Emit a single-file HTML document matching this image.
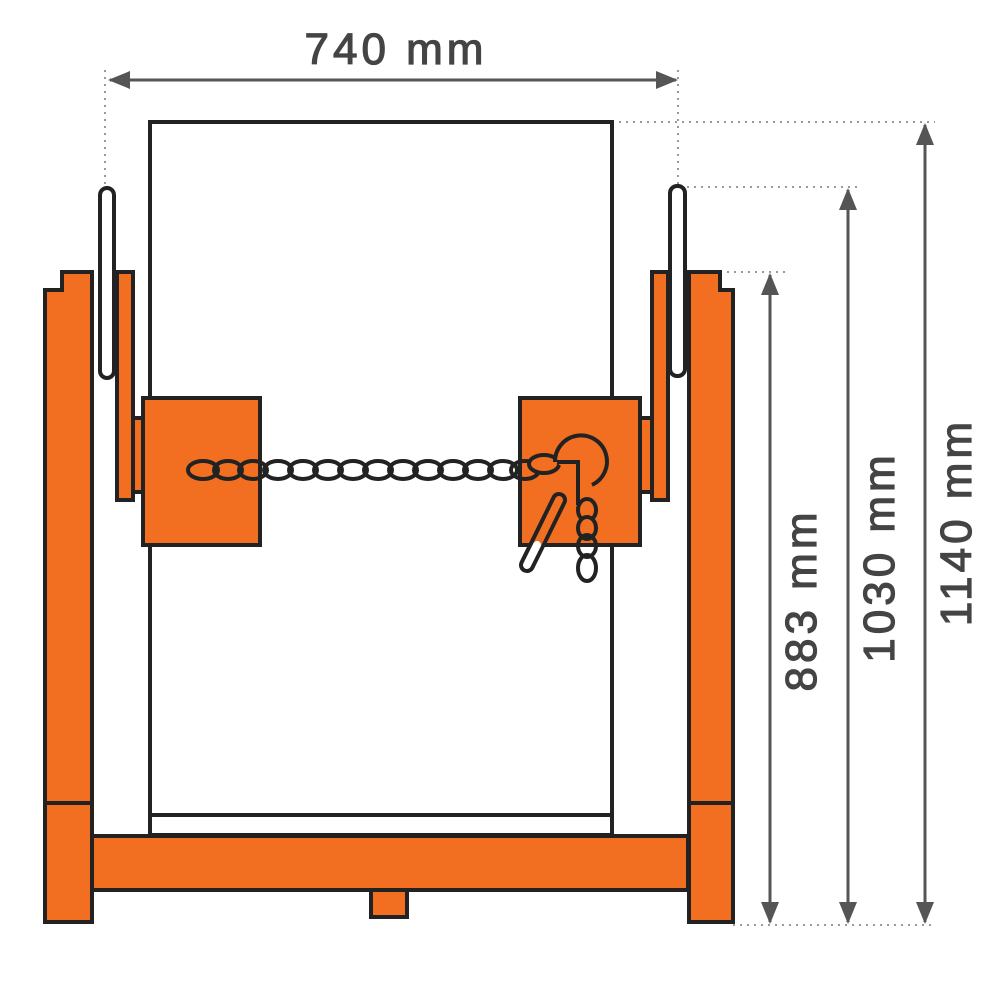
<!DOCTYPE html>
<html><head><meta charset="utf-8"><style>html,body{margin:0;padding:0;background:#fff}svg{display:block}</style></head><body>
<svg width="1000" height="1000" viewBox="0 0 1000 1000" xmlns="http://www.w3.org/2000/svg">
<defs>
<marker id="a2" markerWidth="22" markerHeight="22" refX="20" refY="11" orient="auto-start-reverse" markerUnits="userSpaceOnUse" viewBox="0 0 22 22"><path d="M0,2 L22,11 L0,20 z" fill="#555"/></marker>
</defs>
<g fill="none" stroke="#999" stroke-width="2" stroke-dasharray="2,5">
<line x1="105" y1="70" x2="105" y2="240"/>
<line x1="678" y1="70" x2="678" y2="240"/>
<line x1="612" y1="122" x2="935" y2="122"/>
<line x1="687" y1="187" x2="860" y2="187"/>
<line x1="720" y1="272" x2="785" y2="272"/>
<line x1="733" y1="925" x2="935" y2="925"/>
</g>
<g stroke="#555" stroke-width="3" fill="none">
<line x1="110" y1="80" x2="676" y2="80" marker-start="url(#a2)" marker-end="url(#a2)"/>
<line x1="770" y1="275" x2="770" y2="922" marker-start="url(#a2)" marker-end="url(#a2)"/>
<line x1="848" y1="190" x2="848" y2="922" marker-start="url(#a2)" marker-end="url(#a2)"/>
<line x1="925" y1="125" x2="925" y2="922" marker-start="url(#a2)" marker-end="url(#a2)"/>
</g>
<g font-family="Liberation Sans, sans-serif" font-size="44" fill="#444" stroke="#444" stroke-width="1.2" text-anchor="middle" letter-spacing="4">
<text x="396" y="64">740 mm</text>
<text transform="translate(816,600) rotate(-90)">883 mm</text>
<text transform="translate(894,557) rotate(-90)">1030 mm</text>
<text transform="translate(971,522) rotate(-90)">1140 mm</text>
</g>
<g stroke="#222" stroke-width="4">
<rect x="150" y="122" width="462" height="713" fill="#fff"/>
<line x1="150" y1="815" x2="612" y2="815"/>
<rect x="100" y="188" width="14" height="190" rx="7" fill="#fff"/>
<rect x="670" y="186" width="15" height="190" rx="7" fill="#fff"/>
</g>
<g fill="#F26F22" stroke="#222" stroke-width="4" stroke-linejoin="miter">
<path d="M62,272 H92 V922 H45 V290 H62 Z"/>
<line x1="45" y1="803" x2="92" y2="803"/>
<path d="M720,272 H689 V922 H733 V290 H720 Z"/>
<line x1="689" y1="803" x2="733" y2="803"/>
<rect x="117" y="272" width="16" height="228"/>
<rect x="133" y="418" width="10" height="74"/>
<rect x="652" y="272" width="16" height="228"/>
<rect x="640" y="418" width="12" height="74"/>
<rect x="143" y="398" width="117" height="147"/>
<rect x="520" y="398" width="120" height="147"/>
<rect x="92" y="836" width="596" height="54"/>
<rect x="371" y="890" width="36" height="27"/>
</g>
<g fill="none" stroke="#222" stroke-width="4">
<ellipse cx="203" cy="470" rx="15" ry="9"/>
<ellipse cx="228" cy="470" rx="14" ry="9"/>
<ellipse cx="253" cy="470" rx="14" ry="9"/>
<ellipse cx="278" cy="470" rx="14" ry="9"/>
<ellipse cx="303" cy="470" rx="14" ry="9"/>
<ellipse cx="328" cy="470" rx="14" ry="9"/>
<ellipse cx="353" cy="470" rx="14" ry="9"/>
<ellipse cx="378" cy="470" rx="14" ry="9"/>
<ellipse cx="403" cy="470" rx="14" ry="9"/>
<ellipse cx="428" cy="470" rx="14" ry="9"/>
<ellipse cx="453" cy="470" rx="14" ry="9"/>
<ellipse cx="478" cy="470" rx="14" ry="9"/>
<ellipse cx="503" cy="470" rx="14" ry="9"/>
<ellipse cx="525" cy="470" rx="14" ry="9"/>
<ellipse cx="544" cy="464" rx="15" ry="9" fill="#F26F22"/>
<path d="M555,462 A26,26 0 1 1 592,485" fill="#F26F22"/>
<path d="M557,462 H578 V505"/>
<ellipse cx="587" cy="510" rx="9" ry="11" fill="#F26F22"/>
<ellipse cx="587" cy="528" rx="9" ry="11" fill="#F26F22"/>
<ellipse cx="587" cy="546" rx="9" ry="11"/>
<ellipse cx="587" cy="568" rx="9" ry="13"/>
<path d="M559,500 L527,565" stroke-width="16" stroke-linecap="round" stroke="#222"/>
<path d="M559,500 L537,545" stroke-width="8" stroke-linecap="round" stroke="#F26F22"/>
<path d="M537,545 L527,565" stroke-width="8" stroke-linecap="round" stroke="#fff"/>
</g>
</svg>
</body></html>
